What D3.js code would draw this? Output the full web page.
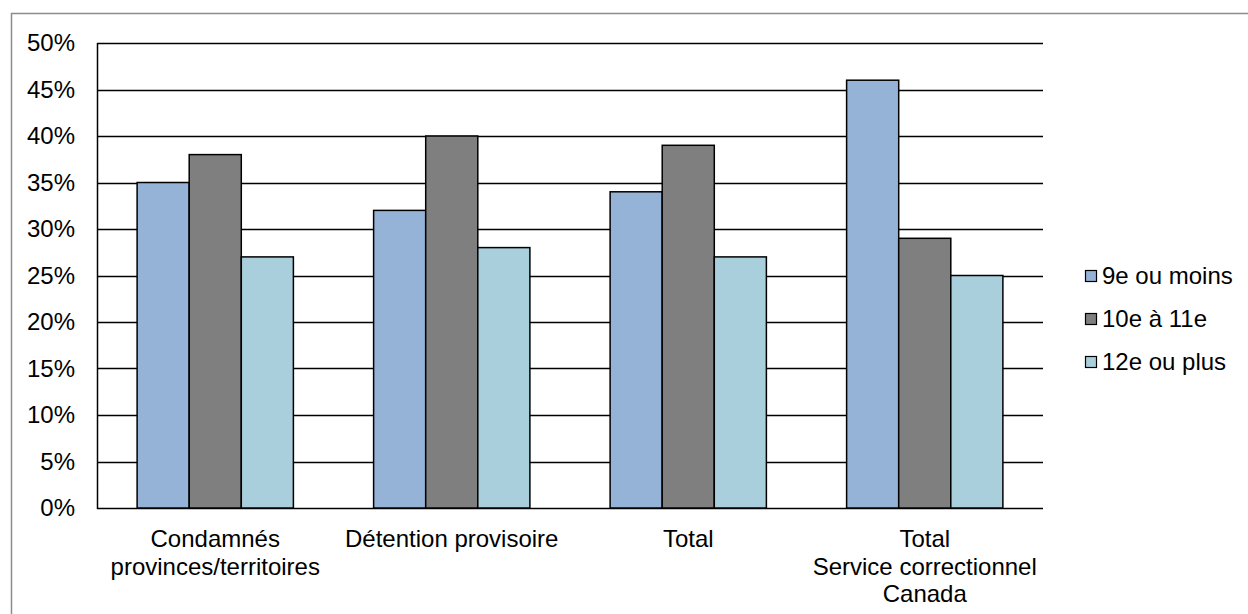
<!DOCTYPE html>
<html>
<head>
<meta charset="utf-8">
<script src="https://cdn.jsdelivr.net/npm/d3@7"></script>
<style>
  html, body { margin: 0; padding: 0; background: #fff; }
  svg { display: block; font-family: "Liberation Sans", Arial, sans-serif; }
</style>
</head>
<body>
<svg id="chart" width="1248" height="614"></svg>
<script>
// Niveau de scolarité des adultes admis en détention
const categories = [
  ["Condamnés", "provinces/territoires"],
  ["Détention provisoire"],
  ["Total"],
  ["Total", "Service correctionnel", "Canada"]
];
const seriesNames = ["9e ou moins", "10e à 11e", "12e ou plus"];
const neufOuMoins = [35, 32, 34, 46];
const dixAOnze = [38, 40, 39, 29];
const douzeOuPlus = [27, 28, 27, 25];
const yTicks = [0, 5, 10, 15, 20, 25, 30, 35, 40, 45, 50];
const colors = ["#95b3d7", "#7f7f7f", "#a9cedc"];

const series = [neufOuMoins, dixAOnze, douzeOuPlus];
const FONT = 24;
const svg = d3.select("#chart");

// Cadre extérieur
svg.append("rect")
  .attr("x", 11.5).attr("y", 13.5)
  .attr("width", 1248).attr("height", 620)
  .attr("fill", "none").attr("stroke", "#8c8c8c").attr("stroke-width", 1.5);

const plot = { left: 97, right: 1043, top: 43, bottom: 508 };

// Une bande par catégorie, puis une sous-bande par série
const x0 = d3.scaleBand()
  .domain(d3.range(categories.length))
  .range([plot.left, plot.right])
  .padding(0);
const x1 = d3.scaleBand()
  .domain(d3.range(series.length))
  .range([0, x0.bandwidth()])
  .paddingInner(0)
  .paddingOuter(0.77);

const y = d3.scaleLinear().domain([0, 50]).range([plot.bottom, plot.top]);

// Quadrillage
svg.append("g")
  .selectAll("line")
  .data(yTicks)
  .join("line")
  .attr("x1", plot.left).attr("x2", plot.right)
  .attr("y1", d => Math.round(y(d)) + 0.5).attr("y2", d => Math.round(y(d)) + 0.5)
  .attr("stroke", "#000").attr("stroke-width", 1.4);

// Étiquettes de l'axe vertical
const yAxis = d3.axisLeft(y).tickValues(yTicks).tickFormat(d => d + "%").tickSize(0).tickPadding(22);
const gy = svg.append("g").attr("transform", `translate(${plot.left},0)`).call(yAxis);
gy.select(".domain").remove();
gy.selectAll("text").attr("font-size", FONT).attr("fill", "#000")
  .attr("font-family", "Liberation Sans, Arial, sans-serif");

// Barres
const groups = svg.append("g").selectAll("g")
  .data(categories.map((c, i) => i))
  .join("g")
  .attr("transform", i => `translate(${x0(i)},0)`);

groups.selectAll("rect")
  .data(i => series.map((s, k) => ({ k, v: s[i] })))
  .join("rect")
  .attr("x", d => x1(d.k))
  .attr("y", d => y(d.v))
  .attr("width", x1.bandwidth())
  .attr("height", d => y(0) - y(d.v))
  .attr("fill", d => colors[d.k])
  .attr("stroke", "#000").attr("stroke-width", 1.5);

// Axe vertical
svg.append("line")
  .attr("x1", plot.left + 0.5).attr("x2", plot.left + 0.5)
  .attr("y1", plot.top).attr("y2", plot.bottom + 1)
  .attr("stroke", "#000").attr("stroke-width", 1.5);

// Étiquettes des catégories
const catLabels = svg.append("g").selectAll("text")
  .data(categories)
  .join("text")
  .attr("y", 547)
  .attr("text-anchor", "middle")
  .attr("font-size", FONT)
  .attr("fill", "#000");
catLabels.selectAll("tspan")
  .data((c, i) => c.map(t => ({ t, i })))
  .join("tspan")
  .attr("x", d => x0(d.i) + x0.bandwidth() / 2)
  .attr("dy", (d, j) => j === 0 ? 0 : 27.5)
  .text(d => d.t);

// Légende
const legend = svg.append("g").selectAll("g")
  .data(seriesNames)
  .join("g")
  .attr("transform", (d, i) => `translate(1085,${276 + i * 43})`);
legend.append("rect")
  .attr("x", 0.5).attr("y", -5.5)
  .attr("width", 11).attr("height", 11)
  .attr("fill", (d, i) => colors[i])
  .attr("stroke", "#000").attr("stroke-width", 1.2);
legend.append("text")
  .attr("x", 17).attr("y", 0).attr("dy", "0.35em")
  .attr("font-size", FONT).attr("fill", "#000")
  .text(d => d);
</script>
</body>
</html>
